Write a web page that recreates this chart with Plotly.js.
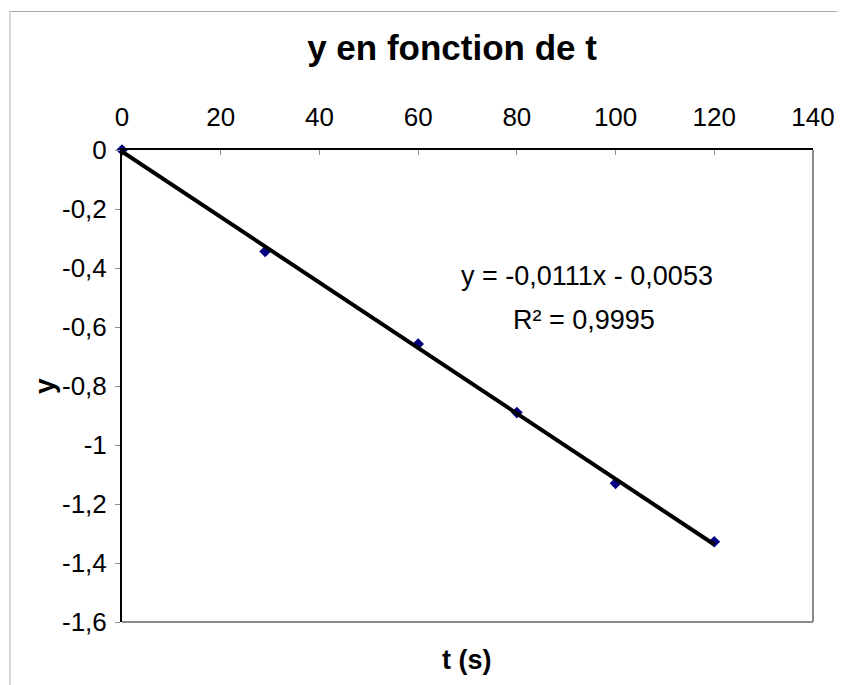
<!DOCTYPE html>
<html>
<head>
<meta charset="utf-8">
<script src="https://cdn.plot.ly/plotly-3.0.1.min.js"></script>
<style>
  html, body { margin: 0; padding: 0; background: #ffffff; }
  #wrap { position: relative; width: 841px; height: 685px; overflow: hidden; }
  #frame { position: absolute; left: 9px; top: 11px; width: 826px; height: 700px;
           border-left: 2px solid #d8d8d8; border-top: 1px solid #a8a8a8; pointer-events: none; }
  #chart { position: absolute; left: 0; top: 0; width: 841px; height: 685px; }
</style>
</head>
<body>
<div id="wrap">
  <div id="chart"></div>
  <div id="frame"></div>
</div>
<script>
// Data
const tValues = [0, 29, 60, 80, 100, 120];
const yValues = [0, -0.344, -0.658, -0.890, -1.130, -1.328];

// Trendline coefficients as displayed on the chart
const trendSlope = -0.0111;
const trendIntercept = -0.0053;
const trendLabel = 'y = -0,0111x - 0,0053';
const r2Label = 'R² = 0,9995';

// Tick labels
const xTickVals = [0, 20, 40, 60, 80, 100, 120, 140];
const xTickLabels = ['0', '20', '40', '60', '80', '100', '120', '140'];
const yTickVals = [0, -0.2, -0.4, -0.6, -0.8, -1, -1.2, -1.4, -1.6];
const yTickLabels = ['0', '-0,2', '-0,4', '-0,6', '-0,8', '-1', '-1,2', '-1,4', '-1,6'];

const tMin = Math.min(...tValues);
const tMax = Math.max(...tValues);
const trendX = [tMin, tMax];
const trendY = trendX.map(t => trendSlope * t + trendIntercept);

const font = 'Liberation Sans, Arial, sans-serif';

const traces = [
  {
    x: tValues, y: yValues, type: 'scatter', mode: 'markers',
    marker: { symbol: 'diamond', size: 9, color: '#000080' },
    cliponaxis: false, showlegend: false, hoverinfo: 'x+y'
  },
  {
    x: trendX, y: trendY, type: 'scatter', mode: 'lines',
    line: { color: '#000000', width: 4 },
    cliponaxis: false, showlegend: false, hoverinfo: 'skip'
  }
];

const layout = {
  width: 841, height: 685,
  margin: { l: 122, r: 28, t: 150, b: 63, pad: 0 },
  paper_bgcolor: 'rgba(0,0,0,0)',
  plot_bgcolor: '#ffffff',
  font: { family: font, size: 26, color: '#000000' },
  title: {
    text: '<b>y en fonction de t</b>',
    font: { family: font, size: 35, color: '#000000' },
    x: 0.5375, xanchor: 'center', y: 0.93, yanchor: 'middle'
  },
  xaxis: {
    side: 'top', range: [0, 140],
    tickvals: xTickVals, ticktext: xTickLabels,
    ticks: 'inside', ticklen: 5, tickcolor: '#909090', tickwidth: 1,
    ticklabelstandoff: 12,
    showline: true, linecolor: '#000000', linewidth: 2,
    showgrid: false, zeroline: false,
    tickfont: { family: font, size: 26, color: '#000000' },
    fixedrange: true
  },
  yaxis: {
    range: [-1.6, 0],
    tickvals: yTickVals, ticktext: yTickLabels,
    ticks: 'outside', ticklen: 5, tickcolor: '#909090', tickwidth: 1,
    ticklabelstandoff: 3,
    showline: true, linecolor: '#000000', linewidth: 2,
    showgrid: false, zeroline: false,
    tickfont: { family: font, size: 26, color: '#000000' },
    fixedrange: true
  },
  shapes: [
    { type: 'line', xref: 'paper', yref: 'paper', x0: 1, x1: 1, y0: 0, y1: 1,
      line: { color: '#8c8c8c', width: 2 }, layer: 'below' },
    { type: 'line', xref: 'paper', yref: 'paper', x0: 0, x1: 1, y0: 0, y1: 0,
      line: { color: '#8c8c8c', width: 2 }, layer: 'below' }
  ],
  annotations: [
    { text: trendLabel, xref: 'paper', yref: 'paper', x: 0.673, y: 0.732,
      xanchor: 'center', yanchor: 'middle', showarrow: false,
      font: { family: font, size: 27, color: '#000000' } },
    { text: r2Label, xref: 'paper', yref: 'paper', x: 0.668, y: 0.640,
      xanchor: 'center', yanchor: 'middle', showarrow: false,
      font: { family: font, size: 27, color: '#000000' } },
    { text: '<b>t (s)</b>', xref: 'paper', yref: 'paper', x: 0.4996, y: -0.081,
      xanchor: 'center', yanchor: 'middle', showarrow: false,
      font: { family: font, size: 27, color: '#000000' } },
    { text: '<b>y</b>', xref: 'paper', yref: 'paper', x: -0.113, y: 0.5,
      xanchor: 'center', yanchor: 'middle', showarrow: false, textangle: -90,
      font: { family: font, size: 28, color: '#000000' } }
  ]
};

Plotly.newPlot('chart', traces, layout, { displayModeBar: false, staticPlot: true });
</script>
</body>
</html>
